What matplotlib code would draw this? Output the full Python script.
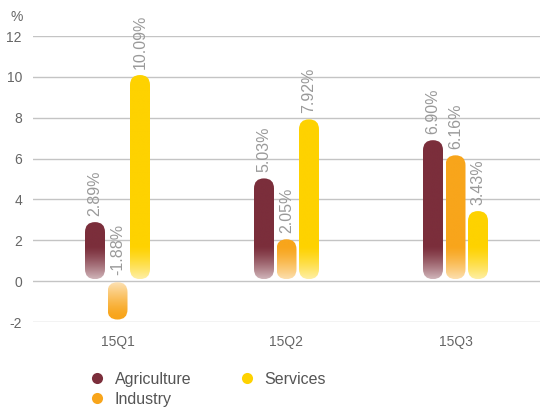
import numpy as np
import matplotlib
matplotlib.use("Agg")
import matplotlib.pyplot as plt
from matplotlib.patches import FancyBboxPatch
from matplotlib.colors import to_rgb
from matplotlib.lines import Line2D

quarters = ["15Q1", "15Q2", "15Q3"]
series = ["Agriculture", "Industry", "Services"]
agriculture = [2.89, 5.03, 6.90]
industry = [-1.88, 2.05, 6.16]
services = [10.09, 7.92, 3.43]
colors = ["#7b2e3b", "#f8a51b", "#fed200"]
y_ticks = [-2, 0, 2, 4, 6, 8, 10, 12]

plt.rcParams["font.family"] = ["Liberation Sans", "DejaVu Sans"]
plt.rcParams["axes.unicode_minus"] = False

W, H, DPI = 5.4, 4.08, 100
fig = plt.figure(figsize=(W, H), dpi=DPI)
ax = fig.add_axes([33 / 540, 1 - 322 / 408, 1 - 33 / 540, (322 - 36) / 408])
ax.set_xlim(-0.5, 2.5)
ax.set_ylim(-2, 12)

# pixel-to-data scale factors for round caps
ax_w_px = (1 - 33 / 540) * W * DPI
ax_h_px = (322 - 36) / 408 * H * DPI
x_per_px = 3.0 / ax_w_px
y_per_px = 14.0 / ax_h_px
aspect = y_per_px / x_per_px

bar_w_px = 20
gap_px = 2.5
bw = bar_w_px * x_per_px
step = (bar_w_px + gap_px) * x_per_px
fade = 1.7       # fade length in data units near the baseline
base_white = 0.7


def draw_bar(xc, val, color):
    c = np.array(to_rgb(color))
    x0 = xc - bw / 2
    if val >= 0:
        lo, hi = 0.1, val
    else:
        lo, hi = val, -0.05
    patch = FancyBboxPatch((x0, lo), bw, hi - lo,
                           boxstyle=f"round,pad=0,rounding_size={bw / 2}",
                           mutation_aspect=aspect, linewidth=0,
                           facecolor="none", edgecolor="none", zorder=3)
    ax.add_patch(patch)
    n = 300
    ys = np.linspace(hi, lo, n)  # top row first
    dist = np.abs(ys)
    t = np.clip(dist / fade, 0, 1)
    w = base_white * (1 - t) ** 1.3
    rgb = c[None, :] * (1 - w[:, None]) + w[:, None]
    img = np.repeat(rgb[:, None, :], 2, axis=1)
    im = ax.imshow(img, extent=(x0, x0 + bw, lo, hi), aspect="auto",
                   zorder=3, interpolation="bilinear")
    im.set_clip_path(patch)
    return hi if val >= 0 else 0.0


data = [agriculture, industry, services]
for qi in range(len(quarters)):
    for si, vals in enumerate(data):
        xc = qi + (si - 1) * step
        v = vals[qi]
        top = draw_bar(xc, v, colors[si])
        ax.text(xc, top + 0.3, f"{v:.2f}%", rotation=90, ha="center",
                va="bottom", color="#9a9a9a", fontsize=11.5, zorder=4)

ax.set_yticks(y_ticks)
ax.set_xticks(range(len(quarters)))
ax.set_xticklabels(quarters)
ax.grid(axis="y", color="#c4c4c4", linewidth=1.0, zorder=0)
ax.set_axisbelow(True)
for s in ax.spines.values():
    s.set_visible(False)
ax.tick_params(axis="both", length=0, colors="#666666", labelsize=10)
ax.tick_params(axis="x", pad=9.5)
ax.tick_params(axis="y", pad=8)

fig.text(17 / 540, 1 - 17 / 408, "%", color="#666666", fontsize=10,
         ha="center", va="center")

handles = [Line2D([], [], marker="o", linestyle="none", markersize=8,
                  markerfacecolor=c, markeredgecolor="none") for c in colors]
leg = fig.legend(handles, series, loc="upper left",
                 bbox_to_anchor=(89 / 540, 1 - 372 / 408), ncol=2,
                 frameon=False, fontsize=11.5, handletextpad=0.6,
                 columnspacing=3.0, labelspacing=0.3, handlelength=1.0,
                 borderaxespad=0, borderpad=0)
for t in leg.get_texts():
    t.set_color("#555555")

fig.savefig("out.png", dpi=DPI)
